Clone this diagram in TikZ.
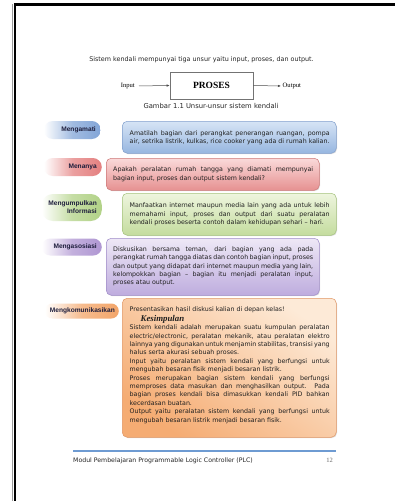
\documentclass[tikz,border=0pt]{standalone}
\usepackage{fontspec}
\setmainfont{DejaVu Sans}
\newfontfamily\seriffont{Liberation Serif}
\newfontfamily\lblfont{Liberation Sans}
\usetikzlibrary{arrows.meta,shadows}
\tolerance=9999 \hbadness=10000 \vbadness=10000 \hfuzz=3pt
\definecolor{bluL}{RGB}{214,228,245}
\definecolor{bluD}{RGB}{150,182,224}
\definecolor{bluB}{RGB}{130,160,205}
\definecolor{redL}{RGB}{250,218,218}
\definecolor{redD}{RGB}{230,145,145}
\definecolor{redB}{RGB}{205,120,120}
\definecolor{grnL}{RGB}{238,245,222}
\definecolor{grnD}{RGB}{196,220,158}
\definecolor{grnB}{RGB}{165,195,125}
\definecolor{purL}{RGB}{238,232,246}
\definecolor{purD}{RGB}{190,172,222}
\definecolor{purB}{RGB}{160,140,200}
\definecolor{orgL}{RGB}{253,234,215}
\definecolor{orgD}{RGB}{245,172,115}
\definecolor{orgB}{RGB}{225,150,100}
\definecolor{bluP}{RGB}{130,165,215}
\definecolor{redP}{RGB}{228,128,128}
\definecolor{grnP}{RGB}{178,210,135}
\definecolor{purP}{RGB}{175,150,210}
\definecolor{orgP}{RGB}{243,165,105}
\definecolor{lbl}{RGB}{30,30,60}
\definecolor{foot}{RGB}{110,155,210}
\begin{document}
\begin{tikzpicture}[x=1pt,y=-1pt,
  body/.style={font=\fontsize{6.3}{8.4}\selectfont, text=black!88, inner sep=0pt,
    text width=200pt, align=justify, anchor=base west},
  plain/.style={font=\fontsize{6.4}{8.4}\selectfont, text=black!85, inner sep=0pt},
  box/.style n args={3}{top color=#1, bottom color=#2, draw=#3, line width=0.5pt,
    rounded corners=5pt, anchor=north west, inner sep=0pt, minimum width=214pt,
    drop shadow={shadow xshift=0.8pt, shadow yshift=-0.8pt, opacity=0.25}},
  pill/.style n args={3}{left color=white, right color=#1, middle color=#1!75,
    rounded corners=#3, minimum height=#2, inner xsep=5pt, inner ysep=0pt,
    anchor=east, align=right, text=lbl,
    font=\lblfont\fontsize{6.6}{7.8}\selectfont\bfseries},
  arr/.style={draw=black!70, line width=0.5pt, -{Latex[length=3pt,width=2.4pt]}}
]
\useasboundingbox (0,0) rectangle (395,501);
\fill[white] (0,0) rectangle (395,501);
% page border
\draw[line width=1pt, black!40] (12.6,501) -- (12.6,3.5);
\draw[line width=2.6pt, black, line join=miter] (15,501) -- (15,4.6) -- (395,4.6);

% title and diagram
\node[plain] (title) at (201.5,60) {Sistem kendali mempunyai tiga unsur yaitu input, proses, dan output.};
\node[draw=black!55, line width=0.6pt, minimum width=83pt, minimum height=27pt,
  font=\seriffont\bfseries\fontsize{9.5}{10}\selectfont] (pro) at (211.5,85.5) {PROSES};
\node[font=\seriffont\fontsize{6.6}{7}\selectfont, inner sep=0pt, anchor=east] (in) at (135,86) {Input};
\node[font=\seriffont\fontsize{6.6}{7}\selectfont, inner sep=0pt, anchor=west] (out) at (282.5,86) {Output};
\draw[arr, shorten <=4pt] (in.east) -- (pro.west);
\draw[arr, shorten >=1.5pt] (pro.east) -- (out.west);
\node[plain, font=\fontsize{6.8}{8.4}\selectfont] (cap) at (211,106) {Gambar 1.1 Unsur-unsur sistem kendali};

% boxes
\node[box={bluL}{bluD}{bluB}, minimum height=32pt] (b1) at (122,121) {};
\node[box={redL}{redD}{redB}, minimum height=32pt, minimum width=213pt] (b2) at (106,158) {};
\node[box={grnL}{grnD}{grnB}, minimum height=42pt] (b3) at (122,193) {};
\node[box={purL}{purD}{purB}, minimum height=57pt, minimum width=213pt] (b4) at (106,238) {};
\node[box={orgL}{orgD}{orgB}, minimum height=139pt, shading angle=-35] (b5) at (122,298) {};

% pills
\node[pill={bluP}{18pt}{9pt}, text width=47pt] (p1) at (101,130) {Mengamati};
\node[pill={redP}{18pt}{9pt}, text width=48pt] (p2) at (102,167) {Menanya};
\node[pill={grnP}{27pt}{11pt}, text width=50pt] (p3) at (102,207.5) {Mengumpulkan\\Informasi};
\node[pill={purP}{17pt}{8.5pt}, text width=50pt] (p4) at (102,247) {Mengasosiasi};
\node[pill={orgP}{15pt}{7.5pt}, text width=66pt, inner xsep=4pt] (p5) at (119,311) {Mengkomunikasikan};

% texts
\node[body] (t1) at (129.5,135.3) {Amatilah bagian dari perangkat penerangan ruangan, pompa\linebreak air, setrika listrik, kulkas, rice cooker yang ada di rumah kalian.};
\node[body] (t2) at (113,171.8) {Apakah peralatan rumah tangga yang diamati mempunyai\linebreak bagian input, proses dan output sistem kendali?};
\node[body] (t3) at (129.5,207.6) {Manfaatkan internet maupun media lain yang ada untuk lebih\linebreak memahami input, proses dan output dari suatu peralatan\linebreak kendali proses beserta contoh dalam kehidupan sehari – hari.};
\node[body] (t4) at (113,251.3) {Diskusikan bersama teman, dari bagian yang ada pada\linebreak perangkat rumah tangga diatas dan contoh bagian input, proses\linebreak dan output yang didapat dari internet maupun media yang lain,\linebreak kelompokkan bagian – bagian itu menjadi peralatan input,\linebreak proses atau output.};
\node[body] (t5) at (129.5,311.3) {Presentasikan hasil diskusi kalian di depan kelas!\par
{\seriffont\bfseries\itshape\fontsize{8.8}{10}\selectfont\hspace*{11pt}Kesimpulan\par}
Sistem kendali adalah merupakan suatu kumpulan peralatan\linebreak electric/electronic, peralatan mekanik, atau peralatan elektro\linebreak lainnya yang digunakan untuk menjamin stabilitas, transisi yang\linebreak halus serta akurasi sebuah proses.\par
Input yaitu peralatan sistem kendali yang berfungsi untuk\linebreak mengubah besaran fisik menjadi besaran listrik.\par
Proses merupakan bagian sistem kendali yang berfungsi\linebreak memproses data masukan dan menghasilkan output. Pada\linebreak bagian proses kendali bisa dimasukkan kendali PID bahkan\linebreak kecerdasan buatan.\par
Output yaitu peralatan sistem kendali yang berfungsi untuk\linebreak mengubah besaran listrik menjadi besaran fisik.};

% footer
\draw[foot, line width=1.3pt] (73,451) -- (336,451);
\node[plain, anchor=base west, font=\fontsize{6.2}{8}\selectfont] (ft) at (73,462.5) {Modul Pembelajaran Programmable Logic Controller (PLC)};
\node[plain, anchor=base east, font=\seriffont\fontsize{6.5}{8}\selectfont, text=black!60] (pg) at (333,462.5) {12};
\end{tikzpicture}
\end{document}
